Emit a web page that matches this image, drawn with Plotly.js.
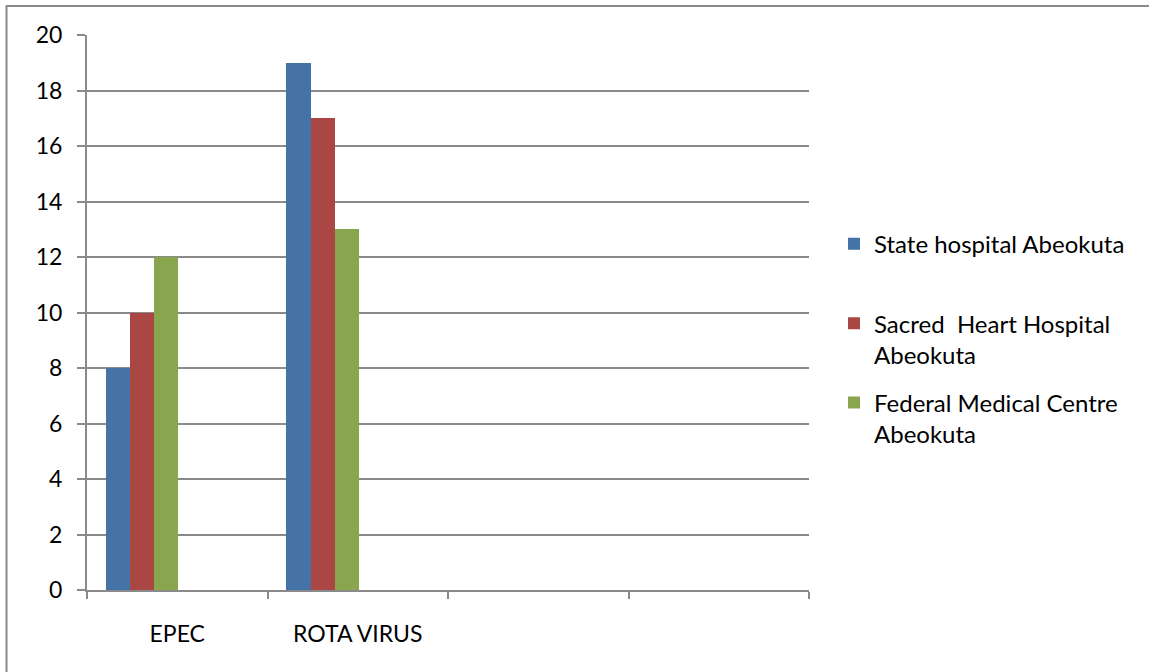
<!DOCTYPE html>
<html>
<head>
<meta charset="utf-8">
<script src="https://cdn.plot.ly/plotly-3.0.1.min.js"></script>
<style>html,body{margin:0;padding:0;background:#fff;}#chart{width:1149px;height:672px;}</style>
</head>
<body>
<div id="chart"></div>
<script>
const categories = ["EPEC", "ROTA VIRUS", "", ""];
const seriesNames = ["State hospital Abeokuta<br> ", "Sacred  Heart Hospital<br>Abeokuta", "Federal Medical Centre<br>Abeokuta"];
const stateHospital = [8, 19];
const sacredHeart = [10, 17];
const federalMedical = [12, 13];
const yTicks = [0, 2, 4, 6, 8, 10, 12, 14, 16, 18, 20];

const colors = ["#4572A7", "#AA4643", "#89A54E"];
const seriesValues = [stateHospital, sacredHeart, federalMedical];
const barW = 0.1333;
const xIdx = stateHospital.map((_, i) => i);
const catIdx = categories.map((_, i) => i);
const boundaries = categories.map((_, i) => i - 0.5).concat([categories.length - 0.5]);

const FONT = "Lato, 'Liberation Sans', Arial, sans-serif";
const traces = seriesValues.map((vals, k) => ({
  type: "bar",
  x: xIdx,
  y: vals,
  name: seriesNames[k],
  marker: {color: colors[k], line: {width: 0}},
  width: barW,
  offset: -0.395 + k * barW,
  legendgroup: "g" + k,
  hoverinfo: "y"
}));

const gridCol = "#8a8a8a";
const layout = {
  width: 1149, height: 672,
  margin: {l: 87, r: 340, t: 34.5, b: 81.5},
  paper_bgcolor: "#fff", plot_bgcolor: "#fff",
  showlegend: true,
  font: {family: FONT, size: 23, color: "#000"},
  xaxis: {
    range: [-0.5, categories.length - 0.5],
    tickmode: "array",
    tickvals: catIdx,
    ticktext: categories,
    ticks: "", showgrid: false, zeroline: false,
    minor: {tickmode: "array", tickvals: boundaries, ticks: "outside", ticklen: 7, tickwidth: 2, tickcolor: gridCol, showgrid: false},
    showline: true, linecolor: gridCol, linewidth: 2,
    ticklabelstandoff: 22,
    tickfont: {family: FONT, size: 23, color: "#000"},
    fixedrange: true
  },
  yaxis: {
    range: [0, 20],
    tickvals: yTicks,
    ticks: "outside", ticklen: 8, tickwidth: 2, tickcolor: gridCol,
    showgrid: true, gridcolor: gridCol, gridwidth: 2,
    zeroline: false,
    showline: true, linecolor: gridCol, linewidth: 2,
    ticklabelstandoff: 10,
    tickfont: {family: FONT, size: 23, color: "#000"},
    fixedrange: true
  },
  legend: {
    x: (834 - 87) / 722, xanchor: "left",
    y: (590.5 - 221.5) / 556, yanchor: "top",
    valign: "top",
    traceorder: "grouped",
    tracegroupgap: 14,
    font: {family: FONT, size: 24, color: "#000"},
    bgcolor: "rgba(0,0,0,0)", borderwidth: 0
  },
  shapes: [
    {type: "line", xref: "paper", yref: "paper", x0: (6.5 - 87) / 722, x1: (6.5 - 87) / 722, y0: (590.5 - 5) / 556, y1: (590.5 - 680) / 556, line: {color: gridCol, width: 2}},
    {type: "line", xref: "paper", yref: "paper", x0: (6 - 87) / 722, x1: (1160 - 87) / 722, y0: (590.5 - 5.5) / 556, y1: (590.5 - 5.5) / 556, line: {color: gridCol, width: 2}}
  ],
  bargap: 0
};

Plotly.newPlot("chart", traces, layout, {displayModeBar: false, staticPlot: true});
</script>
</body>
</html>
